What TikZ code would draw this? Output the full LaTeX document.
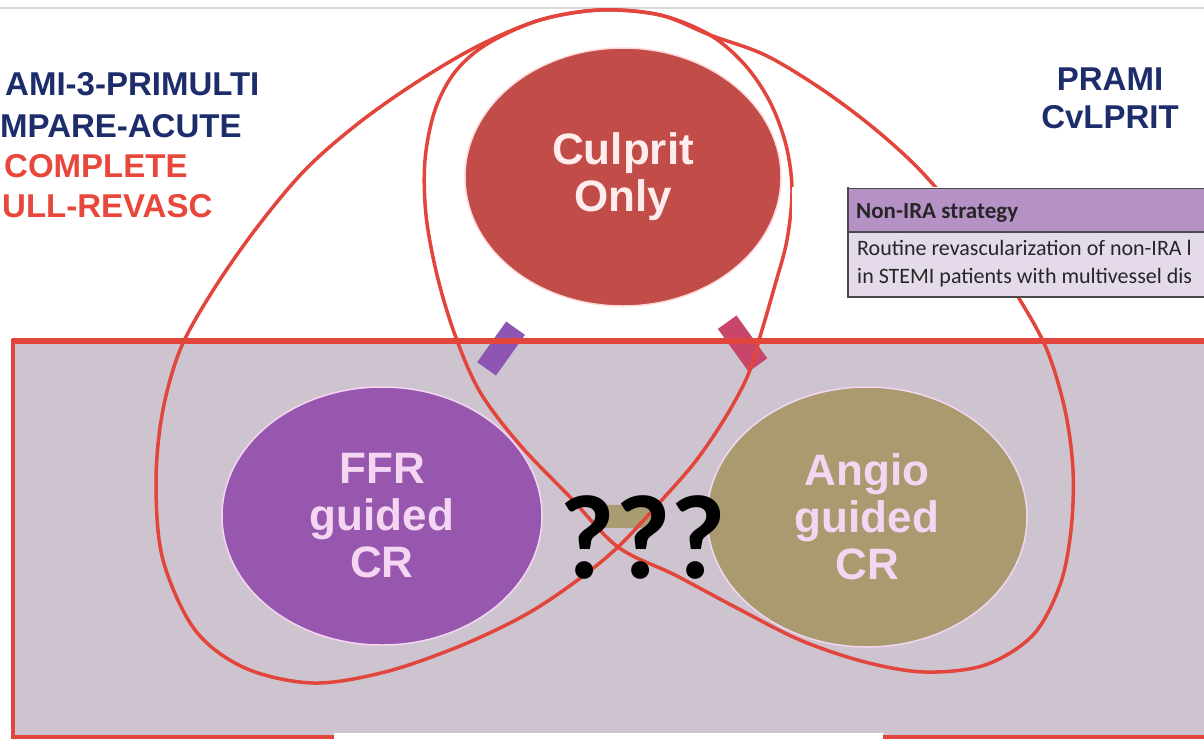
\documentclass[tikz,border=0pt]{standalone}
\usepackage{fontspec}
\setmainfont{Liberation Sans}
\newfontfamily\carl{Carlito}
\usetikzlibrary{shapes.geometric,calc}
\definecolor{navy}{HTML}{1D2C6B}
\definecolor{redtxt}{HTML}{E8473C}
\definecolor{loopred}{HTML}{E2453B}
\definecolor{panel}{HTML}{CEC4CF}
\definecolor{culred}{HTML}{C14C48}
\definecolor{ffrpurple}{HTML}{9757AE}
\definecolor{angiokhaki}{HTML}{A99B6F}
\definecolor{bubtxt}{HTML}{F4D6F2}
\definecolor{barpurple}{HTML}{8C56B2}
\definecolor{barcrimson}{HTML}{C8466A}
\definecolor{barkhaki}{HTML}{A99B72}
\definecolor{thead}{HTML}{B691C6}
\definecolor{tbody}{HTML}{E4DAEA}
\definecolor{tline}{HTML}{4A4A4A}
\tikzset{
  bubble/.style={ellipse, inner sep=0pt, draw=#1, line width=1.5pt, align=center,
    font=\bfseries\fontsize{44}{47}\selectfont},
  linkbar/.style={line width=23pt},
  redloop/.style={draw=loopred, line width=3.5pt},
  titletxt/.style={inner sep=0pt, font=\bfseries\fontsize{33}{40}\selectfont},
  tabtxt/.style={inner sep=0pt, anchor=base west, text=black!85, font=\carl\fontsize{22}{26}\selectfont}
}
\begin{document}
\begin{tikzpicture}[x=1pt,y=-1pt]
\useasboundingbox (0,0) rectangle (1204,739);
\fill[white] (0,0) rectangle (1204,739);
\draw[line width=1.5pt, black!15] (0,8) -- (1204,8);
% panel
\fill[panel] (13,341) rectangle (1210,737);
% ellipses
\node[bubble=pink!60, fill=culred, text=white!93!red, minimum width=316pt, minimum height=258pt] (cul) at (623,177) {Culprit\\Only};
\node[bubble=bubtxt, fill=ffrpurple, text=bubtxt, minimum width=320pt, minimum height=258pt] (ffr) at (382,516) {FFR\\guided\\CR};
\node[bubble=bubtxt, fill=angiokhaki, text=bubtxt, minimum width=320pt, minimum height=260pt] (ang) at (867,517) {Angio\\guided\\CR};
% connector bars
\draw[linkbar, barpurple] ($(cul)!0.446!(ffr)$) -- ($(cul)!0.566!(ffr)$);
\draw[linkbar, barcrimson] ($(cul)!0.427!(ang)$) -- ($(cul)!0.553!(ang)$);
\draw[linkbar, barkhaki] ($(ffr)!0.458!(ang)$) -- ($(ffr)!0.562!(ang)$);
% panel border
\draw[loopred, line width=6pt] (11.5,341) -- (1210,341);
\draw[loopred, line width=3.5pt] (13,339) -- (13,737) -- (1210,737);
% loops
\draw[redloop] plot[smooth cycle, tension=0.55] coordinates {
 (618,547) (660,502) (695,462) (725,418) (748,375) (762,330) (775,285) (787,240) (792,190)
 (786,145) (770,102) (745,65) (710,35) (660,15) (600,10) (540,20) (480,45) (420,80) (360,122)
 (305,170) (255,230) (212,292) (180,350) (162,415) (156,485) (163,560) (195,630) (245,668)
 (313,683) (385,672) (460,646) (525,615) (575,582)};
\draw[redloop] plot[smooth cycle, tension=0.55] coordinates {
 (618,547) (675,575) (735,607) (800,640) (865,662) (925,672) (985,665) (1033,635) (1060,585)
 (1071,530) (1073,470) (1065,410) (1047,350) (1020,300) (990,255) (955,210) (915,165) (870,125)
 (820,88) (765,55) (710,35) (660,15) (600,10) (540,20) (487,44) (455,72) (435,110) (425,160)
 (426,215) (437,275) (455,335) (480,392) (520,445) (570,497)};
% table patch
\fill[white] (792,187) rectangle (1204,298);
\begin{scope}
\clip (792,180) rectangle (1204,300);
\fill[thead] (848,188) rectangle (1210,232);
\fill[tbody] (848,232) rectangle (1210,297);
\draw[tline, line width=0.8pt] (848,188) -- (1210,188);
\draw[tline, line width=1.2pt] (848,232) -- (1210,232);
\draw[tline, line width=1.5pt] (848,297) -- (1210,297);
\draw[tline, line width=2pt] (848,187) -- (848,298);
\node[tabtxt, font=\carl\bfseries\fontsize{23}{26}\selectfont] (th) at (856,218) {Non-IRA strategy};
\node[tabtxt] (tb1) at (857,255) {Routine revascularization of non-IRA l};
\node[tabtxt] (tb2) at (857,283) {in STEMI patients with multivessel dis};
\end{scope}
% titles
\node[titletxt, anchor=base west, text=navy] (t1) at (5,95) {AMI-3-PRIMULTI};
\node[titletxt, anchor=base west, text=navy] (t2) at (0,137) {MPARE-ACUTE};
\node[titletxt, anchor=base west, text=redtxt] (t3) at (4,177) {COMPLETE};
\node[titletxt, anchor=base west, text=redtxt] (t4) at (2,217) {ULL-REVASC};
\node[titletxt, anchor=base, text=navy] (p1) at (1110,90) {PRAMI};
\node[titletxt, anchor=base, text=navy] (p2) at (1110,128) {CvLPRIT};
% question marks
\node[inner sep=0pt, font=\carl\bfseries\fontsize{120}{120}\selectfont] (q) at (643,537) {???};
% bottom white patch
\fill[white] (334,733) rectangle (883,740);
\end{tikzpicture}
\end{document}
